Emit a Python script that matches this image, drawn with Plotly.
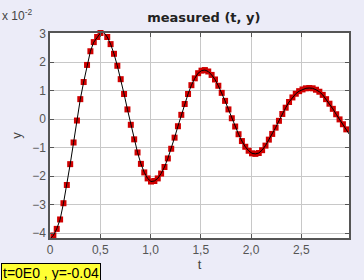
import plotly.graph_objects as go

# sample times (s)
t = [0.0, 0.0335, 0.067, 0.1005, 0.134, 0.1675, 0.201, 0.2345, 0.268, 0.3015,
     0.335, 0.3685, 0.402, 0.4355, 0.469, 0.5025, 0.536, 0.5695, 0.603, 0.6365,
     0.67, 0.7035, 0.737, 0.7705, 0.804, 0.8375, 0.871, 0.9045, 0.938, 0.9715,
     1.005, 1.0385, 1.072, 1.1055, 1.139, 1.1725, 1.206, 1.2395, 1.273, 1.3065,
     1.34, 1.3735, 1.407, 1.4405, 1.474, 1.5075, 1.541, 1.5745, 1.608, 1.6415,
     1.675, 1.7085, 1.742, 1.7755, 1.809, 1.8425, 1.876, 1.9095, 1.943, 1.9765,
     2.01, 2.0435, 2.077, 2.1105, 2.144, 2.1775, 2.211, 2.2445, 2.278, 2.3115,
     2.345, 2.3785, 2.412, 2.4455, 2.479, 2.5125, 2.546, 2.5795, 2.613, 2.6465,
     2.68, 2.7135, 2.747, 2.7805, 2.814, 2.8475, 2.881, 2.9145, 2.948, 2.9815]

# measured y, in units of 10^-2
y = [-4.20, -4.08, -3.85, -3.52, -2.95, -2.31, -1.58, -0.82, -0.05, 0.70,
     1.30, 1.90, 2.38, 2.70, 2.88, 3.02, 3.04, 2.88, 2.63, 2.29,
     1.87, 1.40, 0.88, 0.34, -0.20, -0.71, -1.17, -1.57, -1.87, -2.08,
     -2.19, -2.17, -2.08, -1.91, -1.68, -1.38, -1.04, -0.65, -0.25, 0.15,
     0.53, 0.88, 1.19, 1.43, 1.61, 1.70, 1.72, 1.67, 1.55, 1.39,
     1.17, 0.92, 0.64, 0.34, 0.03, -0.26, -0.53, -0.77, -0.97, -1.11,
     -1.20, -1.22, -1.19, -1.09, -0.93, -0.72, -0.52, -0.30, -0.06, 0.18,
     0.40, 0.60, 0.76, 0.89, 0.98, 1.04, 1.08, 1.09, 1.08, 1.03,
     0.96, 0.85, 0.70, 0.54, 0.36, 0.17, -0.01, -0.18, -0.36, -0.55]

x_ticks = [0, 0.5, 1.0, 1.5, 2.0, 2.5]
x_ticktext = ["0", "0,5", "1,0", "1,5", "2,0", "2,5"]
y_ticks = [-4, -3, -2, -1, 0, 1, 2, 3]
sel = 0  # highlighted sample

fig = go.Figure()
fig.add_trace(go.Scatter(x=[t[sel]], y=[y[sel]], mode="markers",
                         marker=dict(symbol="square", size=12,
                                     color="rgba(245,100,120,0.75)", line=dict(width=0)),
                         cliponaxis=False, showlegend=False))
fig.add_trace(go.Scatter(x=t, y=y, mode="markers",
                         marker=dict(symbol="square", size=6, color="#d00000",
                                     line=dict(width=0)),
                         cliponaxis=False, showlegend=False))
fig.add_trace(go.Scatter(x=t, y=y, mode="lines",
                         line=dict(color="black", width=1),
                         showlegend=False))

axis_common = dict(showgrid=True, gridcolor="#c8c8c8", gridwidth=1,
                   showline=True, linecolor="#555555", linewidth=1.5,
                   mirror="ticks", ticks="inside", ticklen=4, tickcolor="#555555",
                   zeroline=False,
                   tickfont=dict(family="Liberation Sans, Arial, sans-serif",
                                 size=12, color="#555555"))

fig.update_layout(
    width=364, height=280,
    margin=dict(l=50, r=15, t=33, b=42),
    paper_bgcolor="#ececf8", plot_bgcolor="white",
    separators=",.",
    title=dict(text="<b>measured (t, y)</b>", x=0.56, xanchor="center",
               y=1 - 17 / 280, yanchor="middle",
               font=dict(family="DejaVu Sans, sans-serif", size=13, color="#222222")),
    xaxis=dict(range=[0, 2.975], tickvals=x_ticks, ticktext=x_ticktext,
               title=dict(text="t", standoff=2,
                          font=dict(family="Liberation Sans, Arial", size=13, color="#444")),
               **axis_common),
    yaxis=dict(range=[-4.17, 3.02], tickvals=y_ticks,
               title=dict(text="y", standoff=8,
                          font=dict(family="Liberation Sans, Arial", size=13, color="#444")),
               **axis_common),
    annotations=[
        dict(text="x 10<sup>-2</sup>", xref="paper", yref="paper",
             x=-50 / 299, y=1 + 18 / 205, xanchor="left", yanchor="middle",
             showarrow=False,
             font=dict(family="Liberation Sans, Arial", size=12, color="#444444")),
        dict(text="t=0E0 , y=-0.04", xref="paper", yref="paper",
             x=-49 / 299, y=-25 / 205, xanchor="left", yanchor="top",
             showarrow=False, bgcolor="#ffff33", bordercolor="black", borderwidth=1,
             borderpad=1,
             font=dict(family="Liberation Sans, Arial", size=14, color="black")),
    ],
)

fig.write_html("out.html")
